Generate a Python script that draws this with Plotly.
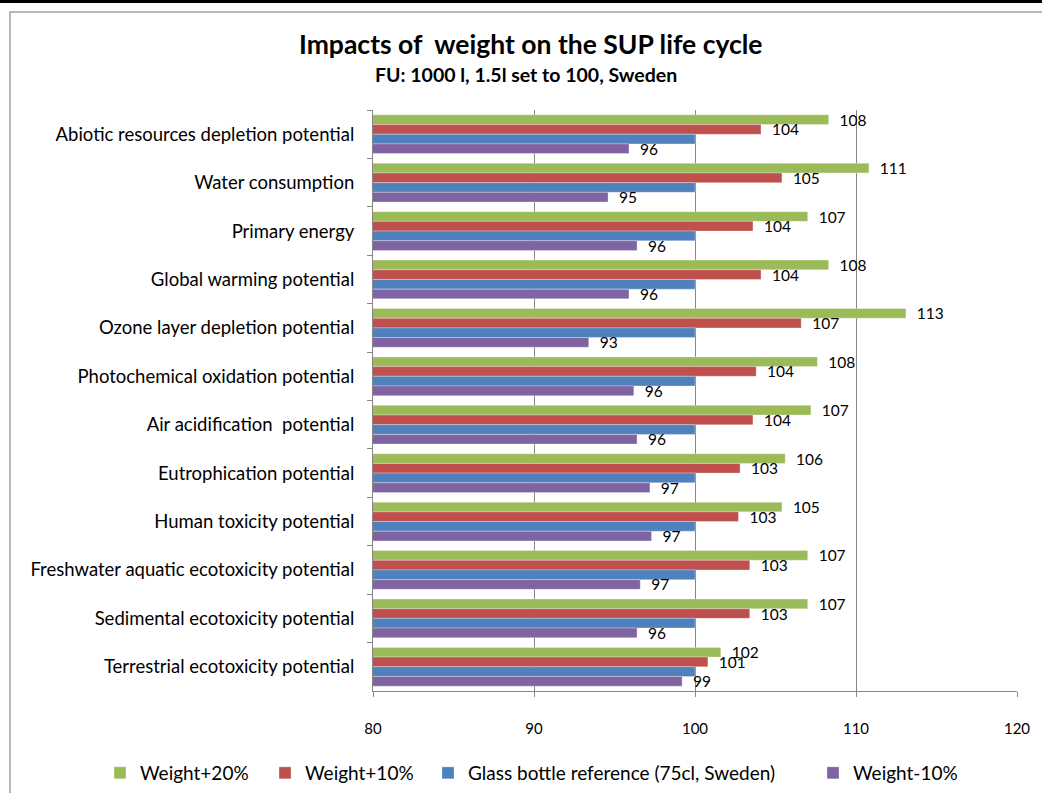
import plotly.graph_objects as go

categories = [
    "Abiotic resources depletion potential",
    "Water consumption",
    "Primary energy",
    "Global warming potential",
    "Ozone layer depletion potential",
    "Photochemical oxidation potential",
    "Air acidification  potential",
    "Eutrophication potential",
    "Human toxicity potential",
    "Freshwater aquatic ecotoxicity potential",
    "Sedimental ecotoxicity potential",
    "Terrestrial ecotoxicity potential",
]

weight_plus_20 = [108.3, 110.8, 107.0, 108.3, 113.1, 107.6, 107.2, 105.6, 105.4, 107.0, 107.0, 101.6]
weight_plus_10 = [104.1, 105.4, 103.6, 104.1, 106.6, 103.8, 103.6, 102.8, 102.7, 103.4, 103.4, 100.8]
glass_reference = [100, 100, 100, 100, 100, 100, 100, 100, 100, 100, 100, 100]
weight_minus_10 = [95.9, 94.6, 96.4, 95.9, 93.4, 96.2, 96.4, 97.2, 97.3, 96.6, 96.4, 99.2]

series = [
    ("Weight+20%", weight_plus_20, "#9BBB59"),
    ("Weight+10%", weight_plus_10, "#C0504D"),
    ("Glass bottle reference (75cl, Sweden)", glass_reference, "#4F81BD"),
    ("Weight-10%", weight_minus_10, "#8064A2"),
]

FONT = "Lato, Calibri, sans-serif"

# plot area spans x 373..1017 px, y 110..691 px
L, R, T, B = 373, 25, 110, 102
W, H = 1042, 793
pw, ph = W - L - R, H - T - B


def px_x(p):
    return (p - L) / pw


def px_y(p):
    return (H - B - p) / ph


# one legend box per series, laid out along the bottom edge
legend_ids = ["legend", "legend2", "legend3", "legend4"]
legend_left = [100, 265, 428, 813]

fig = go.Figure()
for (name, values, color), lid in zip(series, legend_ids):
    show_text = name != "Glass bottle reference (75cl, Sweden)"
    fig.add_trace(go.Bar(
        y=categories,
        x=values,
        name=name,
        legend=lid,
        orientation="h",
        marker=dict(color=color, line=dict(color="rgba(255,255,255,0.6)", width=0.5)),
        texttemplate="  %{x:.0f}" if show_text else "",
        textposition="outside",
        constraintext="none",
        cliponaxis=False,
        textfont=dict(family=FONT, size=15.5, color="#000000"),
        hoverinfo="x+y",
    ))

legend_style = dict(
    orientation="h",
    xref="paper",
    yref="paper",
    y=px_y(773),
    xanchor="left",
    yanchor="middle",
    font=dict(family=FONT, size=19, color="#000000"),
    itemwidth=30,
    bgcolor="rgba(0,0,0,0)",
)
legends = {
    lid: dict(legend_style, x=px_x(left))
    for lid, left in zip(legend_ids, legend_left)
}

fig.update_layout(
    width=W,
    height=H,
    margin=dict(l=L, r=R, t=T, b=B, autoexpand=False),
    paper_bgcolor="white",
    plot_bgcolor="white",
    barmode="group",
    bargap=0.2,
    bargroupgap=0,
    font=dict(family=FONT, color="#000000"),
    showlegend=True,
    **legends,
    xaxis=dict(
        range=[80, 120],
        dtick=10,
        tick0=80,
        showgrid=True,
        gridcolor="#868686",
        gridwidth=1,
        showline=True,
        linecolor="#868686",
        linewidth=1,
        ticks="outside",
        ticklen=5,
        tickcolor="#868686",
        ticklabelstandoff=19,
        tickfont=dict(family=FONT, size=15, color="#000000"),
        zeroline=False,
        fixedrange=True,
    ),
    yaxis=dict(
        autorange="reversed",
        showgrid=False,
        showline=True,
        linecolor="#868686",
        linewidth=1,
        ticks="outside",
        ticklen=5,
        tickcolor="#868686",
        tickson="boundaries",
        ticklabelstandoff=14,
        tickfont=dict(family=FONT, size=18.5, color="#000000"),
        fixedrange=True,
    ),
    annotations=[
        dict(
            text="<b>Impacts of  weight on the SUP life cycle</b>",
            xref="paper", yref="paper",
            x=px_x(530), y=px_y(44),
            xanchor="center", yanchor="middle",
            showarrow=False,
            font=dict(family=FONT, size=26.5, color="#000000"),
        ),
        dict(
            text="<b>FU: 1000 l, 1.5l set to 100, Sweden</b>",
            xref="paper", yref="paper",
            x=px_x(526), y=px_y(74),
            xanchor="center", yanchor="middle",
            showarrow=False,
            font=dict(family=FONT, size=19.5, color="#000000"),
        ),
    ],
    shapes=[
        # chart frame
        dict(type="rect", xref="paper", yref="paper",
             x0=px_x(10), x1=px_x(1060), y0=px_y(12), y1=px_y(820),
             line=dict(color="#A0A0A0", width=1.5), fillcolor="rgba(0,0,0,0)",
             layer="below"),
        # dark strip along the top edge
        dict(type="rect", xref="paper", yref="paper",
             x0=px_x(0), x1=px_x(1042), y0=px_y(0), y1=px_y(3),
             line=dict(width=0), fillcolor="#000000", layer="above"),
    ],
)

fig.write_html("out.html")
